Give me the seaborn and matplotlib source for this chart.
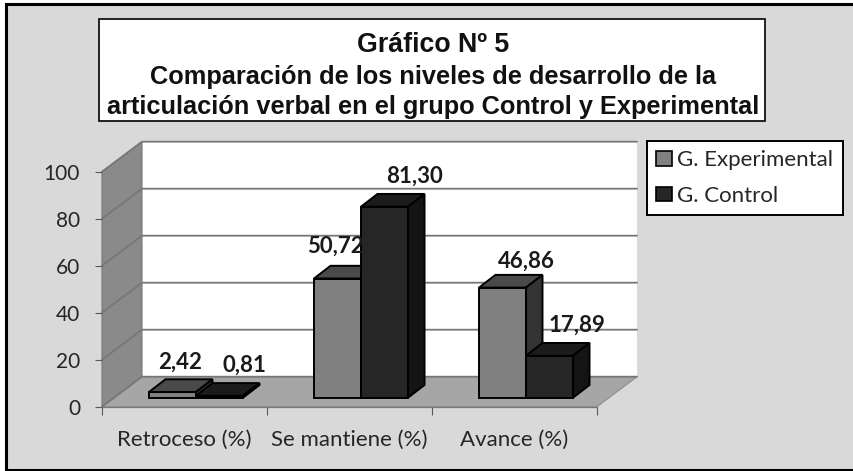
import matplotlib
matplotlib.use("Agg")
import matplotlib.pyplot as plt
import pandas as pd
import seaborn as sns
from matplotlib.lines import Line2D
from matplotlib.patches import Polygon, Rectangle
from matplotlib.transforms import Affine2D, IdentityTransform

categories = ["Retroceso (%)", "Se mantiene (%)", "Avance (%)"]
experimental = [2.42, 50.72, 46.86]
control = [0.81, 81.30, 17.89]
series_names = ["G. Experimental", "G. Control"]
value_labels = [["2,42", "50,72", "46,86"], ["0,81", "81,30", "17,89"]]
y_ticks = [0, 20, 40, 60, 80, 100]

W, H = 854, 471
DEPTH = (40, 30)          # floor depth in pixels
BAR_SHIFT = (11.5, 9)     # bar offset into the floor
BAR_DEPTH = (16.5, 12.7)
FRONT = ["#808080", "#262626"]
TOP = ["#4a4a4a", "#1c1c1c"]
SIDE = ["#333333", "#141414"]
LABEL_OFFSETS = [[(7.5, 30), (-2, 32), (24, 26)],
                 [(24.5, 31), (29.5, 30), (27, 30)]]

sns.set_theme(style="white")
plt.rcParams["font.family"] = ["Lato", "DejaVu Sans"]

fig = plt.figure(figsize=(W / 100, H / 100), dpi=100, facecolor="white")


def fig_box(x0, y0, x1, y1, **kw):
    fig.patches.append(Rectangle((x0, H - y1), x1 - x0, y1 - y0,
                                 transform=IdentityTransform(), figure=fig, zorder=-5, **kw))


fig_box(5.5, 4, W + 5, H - 1, facecolor="#d9d9d9", edgecolor="black", linewidth=2.2)
fig_box(99, 18.5, 765, 120.5, facecolor="white", edgecolor="black", linewidth=1.2)

title_font = dict(family="Liberation Sans", weight="bold", color="#111111",
                  ha="center", va="center", transform=IdentityTransform())
fig.text(433, H - 45, "Gráfico Nº 5", fontsize=19.3, **title_font)
fig.text(433, H - 77, "Comparación de los niveles de desarrollo de la", fontsize=18.3, **title_font)
fig.text(433, H - 107, "articulación verbal en el grupo Control y Experimental", fontsize=18.3, **title_font)

ax = fig.add_axes([102 / W, (H - 406.7) / H, 495 / W, 235 / H])
ax.patch.set_visible(False)

df = pd.DataFrame({
    "categoria": categories * 2,
    "grupo": [series_names[0]] * 3 + [series_names[1]] * 3,
    "valor": experimental + control,
})
sns.barplot(data=df, x="categoria", y="valor", hue="grupo", order=categories,
            hue_order=series_names, palette=FRONT, width=0.57, gap=0,
            saturation=1, legend=False, ax=ax)
ax.set_xlim(-0.5, 2.5)
ax.set_ylim(0, 100)
ax.set_xlabel("")
ax.set_ylabel("")
for s in ax.spines.values():
    s.set_visible(False)


def shifted(dx, dy):
    return ax.transData + Affine2D().translate(dx, dy)


def to_px(x, y, dx=0, dy=0):
    px, py = ax.transData.transform((x, y))
    return px + dx, py + dy


def poly(points, z, **kw):
    ax.add_patch(Polygon(points, closed=True, transform=IdentityTransform(),
                         clip_on=False, zorder=z, **kw))


dx, dy = DEPTH
# walls and floor
poly([to_px(-0.5, 0, dx, dy), to_px(2.5, 0, dx, dy), to_px(2.5, 100, dx, dy), to_px(-0.5, 100, dx, dy)],
     0.2, facecolor="white", edgecolor="none")
poly([to_px(-0.5, 0), to_px(-0.5, 0, dx, dy), to_px(-0.5, 100, dx, dy), to_px(-0.5, 100)],
     0.3, facecolor="#8a8a8a", edgecolor="#777777", linewidth=0.8)
poly([to_px(-0.5, 0), to_px(2.5, 0), to_px(2.5, 0, dx, dy), to_px(-0.5, 0, dx, dy)],
     0.4, facecolor="#a6a6a6", edgecolor="#8c8c8c", linewidth=0.8)

# gridlines across the side wall and back wall
for t in y_ticks:
    pts = [to_px(-0.5, t), to_px(-0.5, t, dx, dy), to_px(2.5, t, dx, dy)]
    ax.add_line(Line2D([p[0] for p in pts], [p[1] for p in pts], color="#777777",
                       linewidth=1.3, transform=IdentityTransform(), clip_on=False, zorder=0.5))

# axes
ax.set_xticks(range(3))
ax.set_xticklabels(categories)
ax.set_xticks([-0.5, 0.5, 1.5, 2.5], minor=True)
ax.set_yticks(y_ticks)
ax.tick_params(axis="x", which="major", length=0, pad=16.5, labelsize=16, colors="#262626")
ax.tick_params(axis="x", which="minor", length=5.5, width=0.8, color="#595959", bottom=True)
ax.tick_params(axis="y", length=5, width=0.8, color="#595959", left=True, pad=10.8,
               labelsize=15, labelcolor="#262626")
ax.add_line(Line2D([-0.5, 2.5], [0, 0], color="#777777", linewidth=0.9, clip_on=False, zorder=0.6))

# bars: seaborn's front faces moved onto the floor, plus their top and side faces
sx, sy = BAR_SHIFT
bx, by = BAR_DEPTH
for i, container in enumerate(ax.containers):
    for j, bar in enumerate(container):
        z = 3 + i + j * 0.1
        bar.set_transform(shifted(sx, sy))
        bar.set_clip_on(False)
        bar.set_edgecolor("black")
        bar.set_linewidth(1.4)
        bar.set_zorder(z)
        x0, x1 = bar.get_x(), bar.get_x() + bar.get_width()
        h = bar.get_height()
        a = to_px(x0, h, sx, sy)
        b = to_px(x1, h, sx, sy)
        c = to_px(x1, 0, sx, sy)
        poly([a, b, (b[0] + bx, b[1] + by), (a[0] + bx, a[1] + by)], z,
             facecolor=TOP[i], edgecolor="black", linewidth=1.4)
        poly([b, c, (c[0] + bx, c[1] + by), (b[0] + bx, b[1] + by)], z,
             facecolor=SIDE[i], edgecolor="black", linewidth=1.4)
        ox, oy = LABEL_OFFSETS[i][j]
        ax.annotate(value_labels[i][j], xy=to_px((x0 + x1) / 2, h, sx, sy), xycoords=IdentityTransform(),
                    xytext=(ox * 0.72, oy * 0.72), textcoords="offset points",
                    ha="center", va="center", fontsize=16, fontweight="bold", color="#1a1a1a",
                    annotation_clip=False, zorder=10)

handles = [Rectangle((0, 0), 1, 1, facecolor=FRONT[i], edgecolor="black", linewidth=1.2) for i in range(2)]
leg = ax.legend(handles, series_names, loc="upper left",
                bbox_to_anchor=(646.7 / W, (H - 141) / H), bbox_transform=fig.transFigure,
                frameon=True, fancybox=False, framealpha=1, facecolor="white", edgecolor="black",
                fontsize=16, handlelength=0.72, handleheight=0.63, handletextpad=0.24,
                labelspacing=0.7, borderpad=0.42, borderaxespad=0, labelcolor="#262626")
leg.get_frame().set_linewidth(1.4)
leg.set_zorder(20)

fig.savefig("out.png", dpi=100)
